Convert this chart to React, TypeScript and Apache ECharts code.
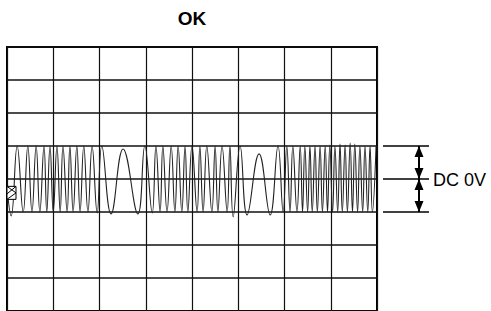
import React, { useEffect, useRef } from "react";
import * as echarts from "echarts";

// Oscilloscope screen: 8 x 8 divisions, values in divisions
const chartTitle = "OK";
const levelLabel = "DC 0V";
const xRange = [0, 8];
const yRange = [-4, 4];
const referenceLevels = [1, 0, -1];
const groundMarkerLevel = -0.42;

// extrema of the trace (x in divisions)
const waveX = [
  0, 0.09, 0.22, 0.35, 0.45, 0.54, 0.63, 0.71, 0.8, 0.86, 0.93, 1.0, 1.08, 1.15, 1.21, 1.3,
  1.36, 1.43, 1.51, 1.58, 1.66, 1.75, 1.84, 1.95, 2.05, 2.25, 2.51, 2.83, 2.98, 3.14, 3.22,
  3.31, 3.37, 3.46, 3.55, 3.63, 3.7, 3.78, 3.85, 3.91, 4.0, 4.11, 4.17, 4.24, 4.32, 4.43,
  4.5, 4.56, 4.65, 4.76, 4.82, 4.89, 5.04, 5.19, 5.45, 5.69, 5.86, 5.97, 6.05, 6.12, 6.18,
  6.27, 6.34, 6.39, 6.44, 6.5, 6.55, 6.6, 6.66, 6.71, 6.77, 6.82, 6.88, 6.93, 6.98, 7.04,
  7.09, 7.15, 7.2, 7.25, 7.31, 7.36, 7.42, 7.47, 7.52, 7.58, 7.63, 7.69, 7.74, 7.8, 7.85,
  7.9, 7.98,
];
// trace level at each extremum (divisions)
const waveY = [
  -0.28, -1.12, 1, -1, 1, -1, 1, -1, 1, -1, 1, -1, 1, -1, 1, -1,
  1, -1, 1, -1, 1, -1, 1, -1.03, 1, -1.06, 0.91, -1.06, 1, -1.03, 1,
  -1, 1, -1, 1, -1, 1, -1, 1, -1, 1, -1, 1, -1, 1, -1,
  1, -1, 1, -1, 1, -1.15, 1, -1.09, 0.76, -1.09, 1, -1, 1, -1, 1,
  -1, 1, -1, 1, -1, 1, -1, 1, -1, 1, -1, 1, -1, 1.03, -1,
  1, -1, 1.06, -1, 1.03, -1, 1.09, -1, 1.06, -1, 1, -1, 1, -1, 1,
  -1, 1,
];

const FONT = "'Liberation Sans', Arial, Helvetica, sans-serif";

export default function App() {
  const ref = useRef<HTMLDivElement>(null);

  useEffect(() => {
    if (!ref.current) return;
    const chart = echarts.init(ref.current, null, { renderer: "svg" });
    const data = waveX.map((x, i) => [x, waveY[i]]);
    chart.setOption({
      animation: false,
      backgroundColor: "#ffffff",
      grid: {
        left: 7,
        top: 47,
        width: 370,
        height: 267,
        show: true,
        borderColor: "#000",
        borderWidth: 2,
        containLabel: false,
      },
      xAxis: {
        type: "value",
        min: xRange[0],
        max: xRange[1],
        interval: 1,
        axisLine: { show: false },
        axisTick: { show: false },
        axisLabel: { show: false },
        splitLine: { show: true, lineStyle: { color: "#111", width: 1.2 } },
      },
      yAxis: {
        type: "value",
        min: yRange[0],
        max: yRange[1],
        interval: 1,
        axisLine: { show: false },
        axisTick: { show: false },
        axisLabel: { show: false },
        splitLine: { show: true, lineStyle: { color: "#111", width: 1.6 } },
      },
      series: [
        {
          type: "line",
          data,
          smooth: 0.45,
          showSymbol: false,
          symbol: "none",
          lineStyle: { color: "#222", width: 1.1 },
          silent: true,
          z: 5,
        },
      ],
    });

    const px = (x: number, y: number) =>
      chart.convertToPixel({ gridIndex: 0 }, [x, y]) as number[];
    const right = px(xRange[1], 0)[0];
    const centerX = (px(xRange[0], 0)[0] + right) / 2;
    const levelsPx = referenceLevels.map((v) => px(xRange[1], v)[1]);
    const lineStart = right + 6;
    const lineEnd = right + 52;
    const arrowX = right + 42;
    const headW = 4.5;
    const headH = 11;

    const graphics: any[] = [];
    graphics.push({
      type: "text",
      x: centerX,
      y: 18,
      style: {
        text: chartTitle,
        font: `bold 19px ${FONT}`,
        fill: "#000",
        align: "center",
        verticalAlign: "middle",
      },
    });
    levelsPx.forEach((y) => {
      graphics.push({
        type: "line",
        shape: { x1: lineStart, y1: y, x2: lineEnd, y2: y },
        style: { stroke: "#000", lineWidth: 1.6 },
      });
    });
    for (let i = 0; i < levelsPx.length - 1; i++) {
      const yTop = levelsPx[i];
      const yBot = levelsPx[i + 1];
      graphics.push({
        type: "line",
        shape: { x1: arrowX, y1: yTop, x2: arrowX, y2: yBot },
        style: { stroke: "#000", lineWidth: 2 },
      });
      graphics.push({
        type: "polygon",
        shape: {
          points: [
            [arrowX, yTop],
            [arrowX - headW, yTop + headH],
            [arrowX + headW, yTop + headH],
          ],
        },
        style: { fill: "#000" },
      });
      graphics.push({
        type: "polygon",
        shape: {
          points: [
            [arrowX, yBot],
            [arrowX - headW, yBot - headH],
            [arrowX + headW, yBot - headH],
          ],
        },
        style: { fill: "#000" },
      });
    }
    graphics.push({
      type: "text",
      x: lineEnd + 4,
      y: levelsPx[1] + 1,
      style: {
        text: levelLabel,
        font: `18px ${FONT}`,
        fill: "#000",
        align: "left",
        verticalAlign: "middle",
      },
    });
    // ground marker box at the left edge
    const gy = px(xRange[0], groundMarkerLevel)[1];
    const gx = px(xRange[0], groundMarkerLevel)[0];
    graphics.push({
      type: "rect",
      shape: { x: gx, y: gy - 6.5, width: 9, height: 13 },
      style: { fill: "#fff", stroke: "#000", lineWidth: 1 },
      z: 10,
    });
    graphics.push({
      type: "polyline",
      shape: { points: [[gx, gy - 6.5], [gx + 9, gy], [gx, gy + 6.5]] },
      style: { stroke: "#000", lineWidth: 1, fill: "none" },
      z: 11,
    });
    graphics.push({
      type: "line",
      shape: { x1: gx + 9, y1: gy - 6.5, x2: gx, y2: gy + 1 },
      style: { stroke: "#000", lineWidth: 1 },
      z: 11,
    });

    chart.setOption({ graphic: graphics });
    return () => chart.dispose();
  }, []);

  return (
    <div
      ref={ref}
      style={{ position: "fixed", left: 0, top: 0, width: 491, height: 311, background: "#fff" }}
    />
  );
}
